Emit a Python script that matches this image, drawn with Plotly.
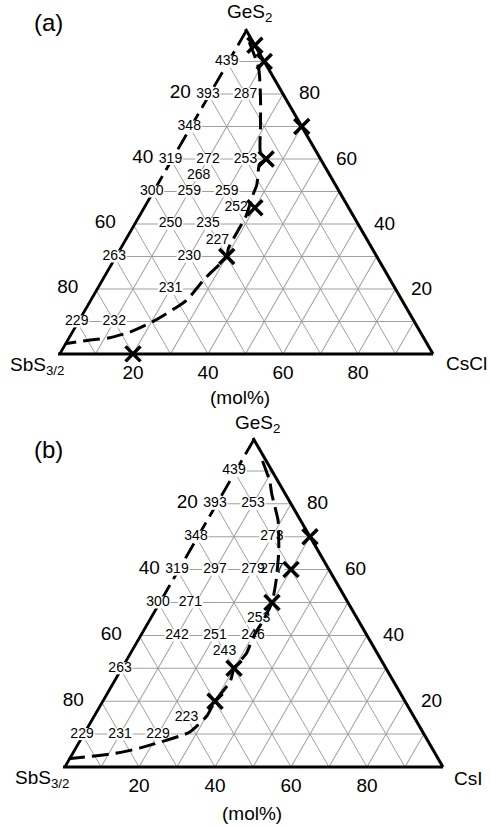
import plotly.graph_objects as go

W, H = 490, 826
FONT = "Liberation Sans, Arial, sans-serif"

# ---------------- data ----------------
# ternary grid / tick labels (tick value -> printed label)
GRID_VALS = [10, 20, 30, 40, 50, 60, 70, 80, 90]
GRID_TEXT = ["", "80", "", "60", "", "40", "", "20", ""]
RIGHT_TICKS = [80, 60, 40, 20]          # GeS2 mol% printed on the right edge

# Panel (a): GeS2 - SbS3/2 - CsCl  (mol%)
A_TG = [439, 393, 287, 348, 319, 272, 253, 268, 300, 259, 259, 252, 250, 235, 227, 263, 230, 231, 229, 232]
A_TG_GES2 = [90, 80, 80, 70, 60, 60, 60, 55, 50, 50, 50, 45, 40, 40, 35, 30, 30, 20, 10, 10]
A_TG_SBS = [10, 20, 10, 30, 40, 30, 20, 35, 50, 40, 30, 30, 50, 40, 40, 70, 50, 60, 90, 80]
A_TG_HAL = [0, 0, 10, 0, 0, 10, 20, 10, 0, 10, 20, 25, 10, 20, 25, 0, 20, 20, 0, 10]

A_X_GES2 = [95, 90, 70, 60, 45, 30, 0]
A_X_SBS = [0, 0, 0, 14.5, 25, 40, 80]
A_X_HAL = [5, 10, 30, 25.5, 30, 30, 20]

A_BD_GES2 = [96, 88, 79, 70, 62, 60, 58.5, 52, 49, 42, 39, 32.5, 30, 23, 16.5, 10, 6.7, 4.9, 4.3, 3.1]
A_BD_SBS = [1, 2.5, 6.5, 11, 15, 14.5, 17, 21, 23.5, 29, 32, 38.3, 40, 49.5, 57.5, 69.6, 77.5, 84.1, 89.3, 96.6]
A_BD_HAL = [3, 9.5, 14.5, 19, 23, 25.5, 24.5, 27, 27.5, 29, 29, 29.2, 30, 27.5, 26, 20.4, 15.8, 11, 6.4, 0.3]

# Panel (b): GeS2 - SbS3/2 - CsI  (mol%)
B_TG = [439, 393, 253, 348, 273, 319, 297, 279, 277, 300, 271, 253, 242, 251, 246, 243, 263, 223, 229, 231, 229]
B_TG_GES2 = [90, 80, 80, 70, 70, 60, 60, 60, 60, 50, 50, 45, 40, 40, 40, 35, 30, 15, 10, 10, 10]
B_TG_SBS = [10, 20, 10, 30, 10, 40, 30, 20, 15, 50, 41.5, 26, 50, 40, 30, 40, 70, 60, 90, 80, 70]
B_TG_HAL = [0, 0, 10, 0, 20, 0, 10, 20, 25, 0, 8.5, 29, 10, 20, 30, 25, 0, 25, 0, 10, 20]

B_X_GES2 = [70, 60, 50, 30, 20]
B_X_SBS = [0, 10, 20, 40, 50]
B_X_HAL = [30, 30, 30, 30, 30]

B_BD_GES2 = [93, 86.7, 83.2, 75, 73, 66.4, 64, 56.8, 50, 44.7, 39.6, 34.5, 30, 26, 20, 15.5, 12.5, 10.4, 5.8, 4.3, 2.5]
B_BD_SBS = [1, 2.2, 3.5, 5.9, 6.8, 10, 11.3, 15.5, 20, 24.9, 30.1, 34.5, 40, 43, 50, 54.4, 58.5, 61.8, 76.8, 83.3, 97.4]
B_BD_HAL = [6, 11.1, 13.3, 19.1, 20.2, 23.6, 24.7, 27.7, 30, 30.4, 30.3, 31, 30, 31, 30, 30.1, 29, 27.8, 17.4, 12.4, 0.1]

# triangle frame pieces (left edge: dashed upper half, solid lower half);
# nudged inward by half a stroke so the clip path keeps the full width
EDGE_IN = 0.45
EDGE_DASH = dict(a=[100 - EDGE_IN, 50], b=[0, 50 - EDGE_IN], c=[EDGE_IN, EDGE_IN])
EDGE_SOLID = dict(a=[50, 0], b=[50 - EDGE_IN, 100 - EDGE_IN], c=[EDGE_IN, EDGE_IN])

# panel boxes in pixels: (left, top, right, bottom) of each triangle
BOX_A = (58, 29, 433, 354)
BOX_B = (63, 438, 443, 767)

fig = go.Figure()


def add_panel(sp, tg, tg_a, tg_b, tg_c, xa, xb, xc, ba, bb, bc):
    fig.add_trace(go.Scatterternary(subplot=sp, mode="lines", a=EDGE_DASH["a"], b=EDGE_DASH["b"], c=EDGE_DASH["c"],
                                    line=dict(color="black", width=3, dash="17px,7px"),
                                    hoverinfo="skip", showlegend=False))
    fig.add_trace(go.Scatterternary(subplot=sp, mode="lines", a=EDGE_SOLID["a"], b=EDGE_SOLID["b"], c=EDGE_SOLID["c"],
                                    line=dict(color="black", width=3),
                                    hoverinfo="skip", showlegend=False))
    # white label backgrounds
    fig.add_trace(go.Scatterternary(subplot=sp, mode="markers", a=tg_a, b=tg_b, c=tg_c,
                                    marker=dict(symbol="line-ew", size=18, color="white",
                                                line=dict(color="white", width=12)),
                                    cliponaxis=False, hoverinfo="skip", showlegend=False))
    fig.add_trace(go.Scatterternary(subplot=sp, mode="text", a=tg_a, b=tg_b, c=tg_c,
                                    text=[str(v) for v in tg], textposition="middle center",
                                    textfont=dict(size=14, family=FONT, color="black"),
                                    cliponaxis=False, hoverinfo="skip", showlegend=False))
    fig.add_trace(go.Scatterternary(subplot=sp, mode="lines", a=ba, b=bb, c=bc,
                                    line=dict(color="black", width=3, dash="17px,7px", shape="spline", smoothing=0.6),
                                    cliponaxis=False, hoverinfo="skip", showlegend=False))
    fig.add_trace(go.Scatterternary(subplot=sp, mode="markers", a=xa, b=xb, c=xc,
                                    marker=dict(symbol="x-thin", size=15, color="black",
                                                line=dict(color="black", width=3.5)),
                                    cliponaxis=False, hoverinfo="skip", showlegend=False))


add_panel("ternary", A_TG, A_TG_GES2, A_TG_SBS, A_TG_HAL, A_X_GES2, A_X_SBS, A_X_HAL,
          A_BD_GES2, A_BD_SBS, A_BD_HAL)
add_panel("ternary2", B_TG, B_TG_GES2, B_TG_SBS, B_TG_HAL, B_X_GES2, B_X_SBS, B_X_HAL,
          B_BD_GES2, B_BD_SBS, B_BD_HAL)


def axis(show_line, ticklen, labels=True):
    return dict(
        tickmode="array", tickvals=GRID_VALS, ticktext=GRID_TEXT,
        ticks="outside", ticklen=ticklen, tickcolor="rgba(0,0,0,0)",
        showticklabels=labels,
        tickfont=dict(size=19, family=FONT, color="black"),
        showgrid=True, gridcolor="#a0a0a0", gridwidth=1,
        showline=show_line, linecolor="black", linewidth=3,
        title=dict(text=""), min=0,
    )


def ternary(box):
    x0, y0, x1, y1 = box
    return dict(
        sum=100, bgcolor="white",
        domain=dict(x=[x0 / W, x1 / W], y=[1 - y1 / H, 1 - y0 / H]),
        aaxis=axis(False, 14), baxis=axis(True, 0), caxis=axis(True, 0, labels=False),
    )


def px_ann(text, x, y, size, xanchor="center"):
    return dict(text=text, x=x / W, y=1 - y / H, xref="paper", yref="paper",
                xanchor=xanchor, yanchor="middle", showarrow=False,
                font=dict(size=size, family=FONT, color="black"))


def right_ticks(box, gap=26):
    # tick labels on the right edge, placed horizontally outside the edge
    x0, y0, x1, y1 = box
    xa = (x0 + x1) / 2
    out = []
    for v in RIGHT_TICKS:
        x = xa + (100 - v) / 100 * (x1 - xa) + gap
        y = y1 - v / 100 * (y1 - y0) - 1
        out.append(px_ann(str(v), x, y, 19))
    return out


fig.update_layout(
    width=W, height=H, margin=dict(l=0, r=0, t=0, b=0),
    paper_bgcolor="white", plot_bgcolor="white", showlegend=False,
    ternary=ternary(BOX_A),
    ternary2=ternary(BOX_B),
    annotations=[
        px_ann("(a)", 48, 22, 24),
        px_ann("GeS<sub>2</sub>", 249, 13, 19),
        px_ann("SbS<sub>3/2</sub>", 37, 366, 19),
        px_ann("CsCl", 466, 363, 19),
        px_ann("(mol%)", 240, 398, 19),
        px_ann("(b)", 48, 449, 24),
        px_ann("GeS<sub>2</sub>", 257, 424, 19),
        px_ann("SbS<sub>3/2</sub>", 42, 779, 19),
        px_ann("CsI", 468, 778, 19),
        px_ann("(mol%)", 252, 813, 19),
    ] + right_ticks(BOX_A) + right_ticks(BOX_B),
)

fig.write_html("out.html", config={"displayModeBar": False},
               post_script="document.body.style.margin='0';document.body.style.overflow='hidden';")
